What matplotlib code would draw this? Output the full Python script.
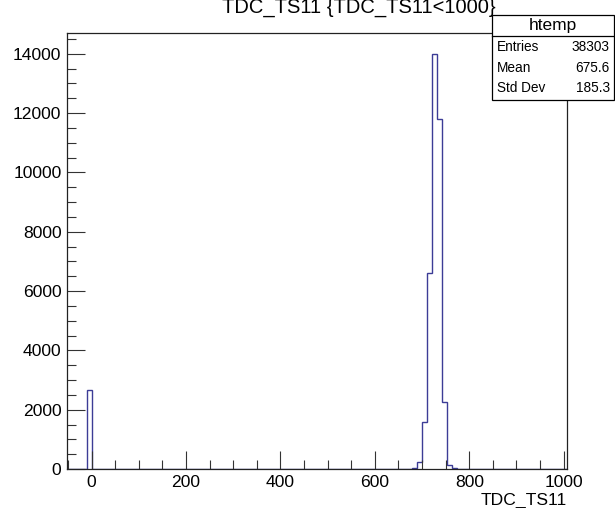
import numpy as np
import matplotlib
matplotlib.use("Agg")
import matplotlib.pyplot as plt
from matplotlib.patches import Rectangle
from matplotlib.ticker import MultipleLocator

# histogram binning (ROOT htemp, 100 bins)
x_lo = -52.0
x_hi = 1007.0
n_bins = 100

# non-empty bins
filled_bins = [4, 69, 70, 71, 72, 73, 74, 75, 76, 77]
filled_counts = [2650, 30, 220, 1600, 6620, 14000, 11800, 2250, 150, 50]

stat_names = ["Entries", "Mean", "Std Dev"]
stat_values = ["38303", "675.6", "185.3"]

W, H = 615, 508
plt.rcParams['font.family'] = ['Liberation Sans', 'DejaVu Sans']

fig = plt.figure(figsize=(W / 100, H / 100), dpi=100)

def fx(px):
    return px / W

def fy(py):
    return 1 - py / H

# frame: left 67, right 567, top 33, bottom 469 (pixels)
ax = fig.add_axes([fx(67), fy(469), fx(567) - fx(67), fy(33) - fy(469)])

edges = np.linspace(x_lo, x_hi, n_bins + 1)
counts = np.zeros(n_bins)
counts[filled_bins] = filled_counts

ax.stairs(counts, edges, color='#3c3c96', lw=1.0)

ax.set_xlim(x_lo, x_hi)
ax.set_ylim(0, 1.05 * max(filled_counts))

ax.xaxis.set_major_locator(MultipleLocator(200))
ax.xaxis.set_minor_locator(MultipleLocator(50))
ax.yaxis.set_major_locator(MultipleLocator(2000))
ax.yaxis.set_minor_locator(MultipleLocator(500))
ax.tick_params(which='both', direction='in', top=False, right=False,
               labelsize=12.6, width=0.8, color='#333333')
ax.tick_params(which='major', length=13, pad=4)
ax.tick_params(which='minor', length=6.5)
ax.tick_params(axis='x', pad=4)
for s in ax.spines.values():
    s.set_linewidth(0.9)
    s.set_color('#222222')

fig.text(fx(567), fy(500), "TDC_TS11", ha='right', va='center', fontsize=12.6)

# title, cut off at the top of the canvas like the original
fig.text(fx(359), fy(13), "TDC_TS11 {TDC_TS11<1000}", ha='center', va='baseline',
         fontsize=14.5)

# stats box
bx0, by0, bx1, by1 = 492, 15, 614, 100
fig.add_artist(Rectangle((fx(bx0), fy(by1)), fx(bx1) - fx(bx0), fy(by0) - fy(by1),
                         transform=fig.transFigure, facecolor='white',
                         edgecolor='black', lw=0.9, zorder=5))
fig.add_artist(plt.Line2D([fx(bx0), fx(bx1)], [fy(36), fy(36)],
                          transform=fig.transFigure, color='black', lw=0.9, zorder=6))
fig.text(fx((bx0 + bx1) / 2), fy(25.5), "htemp", ha='center', va='center',
         fontsize=12.5, zorder=7)
for i, (name, val) in enumerate(zip(stat_names, stat_values)):
    yy = fy(47 + i * 20.5)
    fig.text(fx(497), yy, name, ha='left', va='center', fontsize=9.8, zorder=7)
    fig.text(fx(610), yy, val, ha='right', va='center', fontsize=9.8, zorder=7)

fig.savefig("out.png", dpi=100)
